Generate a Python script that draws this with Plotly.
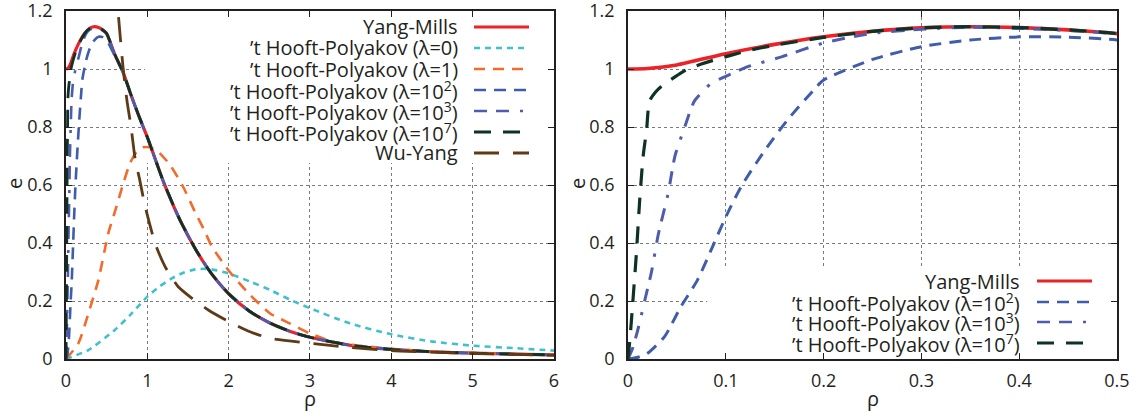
import plotly.graph_objects as go

# ---------------- data ----------------
rho_ym = [0, 0.02, 0.05, 0.1, 0.15, 0.2, 0.25, 0.3, 0.35, 0.4, 0.45, 0.5, 0.6, 0.7, 0.8, 0.9,
          1.0, 1.2, 1.4, 1.6, 1.8, 2.0, 2.25, 2.5, 2.75, 3.0, 3.5, 4.0, 4.5, 5.0, 5.5, 6.0]
e_ym = [1.0, 1.002, 1.014, 1.053, 1.085, 1.111, 1.130, 1.142, 1.146, 1.143, 1.135, 1.122, 1.05, 0.99,
        0.91, 0.835, 0.765, 0.61, 0.48, 0.375, 0.29, 0.225, 0.166, 0.125, 0.096, 0.075, 0.047, 0.033,
        0.025, 0.020, 0.017, 0.014]

rho_l0 = [0, 0.275, 0.6, 0.8, 1.0, 1.15, 1.3, 1.45, 1.59, 1.7, 1.79, 2.0, 2.263, 2.51, 2.75, 3.0,
          3.49, 4.0, 4.51, 5.0, 5.54, 6.0]
e_l0 = [0, 0.031, 0.10, 0.155, 0.215, 0.25, 0.278, 0.298, 0.309, 0.311, 0.309, 0.295, 0.267, 0.238,
        0.205, 0.175, 0.123, 0.085, 0.060, 0.046, 0.037, 0.029]

rho_l1 = [0, 0.152, 0.275, 0.398, 0.52, 0.62, 0.705, 0.787, 0.87, 0.951, 1.03, 1.115, 1.28, 1.44,
          1.59, 1.69, 1.79, 2.0, 2.263, 2.51, 2.75, 3.0, 3.28, 3.49, 4.0, 4.5, 5.0, 5.5, 6.0]
e_l1 = [0, 0.054, 0.157, 0.272, 0.433, 0.525, 0.606, 0.675, 0.715, 0.73, 0.73, 0.72, 0.669, 0.594,
        0.505, 0.45, 0.39, 0.305, 0.221, 0.157, 0.123, 0.088, 0.060, 0.050, 0.035, 0.026, 0.021,
        0.017, 0.014]

rho_l2 = [0, 0.01, 0.02, 0.0374, 0.054, 0.071, 0.088, 0.1, 0.1156, 0.14, 0.163, 0.19, 0.2, 0.25,
          0.3, 0.35, 0.4, 0.45, 0.5, 0.6, 0.7, 0.8, 0.9, 1.0, 1.2, 1.4, 1.6, 1.8, 2.0, 2.25, 2.5,
          2.75, 3.0, 3.5, 4.0, 4.5, 5.0, 5.5, 6.0]
e_l2 = [0, 0.006, 0.02, 0.077, 0.18, 0.272, 0.399, 0.49, 0.594, 0.72, 0.824, 0.928, 0.962, 1.033,
        1.077, 1.10, 1.111, 1.11, 1.10, 1.045, 0.99, 0.91, 0.835, 0.765, 0.61, 0.48, 0.375, 0.29,
        0.225, 0.166, 0.125, 0.096, 0.075, 0.047, 0.033, 0.025, 0.020, 0.017, 0.014]

rho_l3 = [0, 0.005, 0.01, 0.017, 0.024, 0.031, 0.041, 0.048, 0.058, 0.068, 0.085, 0.1, 0.1225,
          0.157, 0.2, 0.25, 0.3, 0.35, 0.4, 0.45, 0.5, 0.6, 0.7, 0.8, 0.9, 1.0, 1.2, 1.4, 1.6, 1.8,
          2.0, 2.25, 2.5, 2.75, 3.0, 3.5, 4.0, 4.5, 5.0, 5.5, 6.0]
e_l3 = [0, 0.04, 0.10, 0.20, 0.30, 0.43, 0.57, 0.70, 0.80, 0.89, 0.95, 0.975, 1.008, 1.042, 1.09,
        1.123, 1.137, 1.144, 1.14, 1.133, 1.12, 1.05, 0.99, 0.91, 0.835, 0.765, 0.61, 0.48, 0.375,
        0.29, 0.225, 0.166, 0.125, 0.096, 0.075, 0.047, 0.033, 0.025, 0.020, 0.017, 0.014]

rho_l7 = [0, 0.002, 0.005, 0.0085, 0.012, 0.0155, 0.019, 0.022, 0.028, 0.034, 0.048, 0.061, 0.075,
          0.088, 0.105, 0.122, 0.15, 0.2, 0.25, 0.3, 0.35, 0.4, 0.45, 0.5, 0.6, 0.7, 0.8, 0.9, 1.0,
          1.2, 1.4, 1.6, 1.8, 2.0, 2.25, 2.5, 2.75, 3.0, 3.5, 4.0, 4.5, 5.0, 5.5, 6.0]
e_l7 = [0, 0.07, 0.20, 0.36, 0.55, 0.70, 0.79, 0.89, 0.92, 0.94, 0.973, 1.0, 1.017, 1.031, 1.047,
        1.063, 1.082, 1.109, 1.130, 1.142, 1.146, 1.143, 1.135, 1.122, 1.05, 0.99, 0.91, 0.835,
        0.765, 0.61, 0.48, 0.375, 0.29, 0.225, 0.166, 0.125, 0.096, 0.075, 0.047, 0.033, 0.025,
        0.020, 0.017, 0.014]

rho_wy = [0.50, 0.57, 0.64, 0.70, 0.75, 0.80, 0.85, 0.905, 0.97, 1.10, 1.22, 1.38, 1.55, 1.75, 2.0,
          2.263, 2.51, 3.0, 3.49, 4.0, 4.5, 5.0, 5.5, 6.0]
e_wy = [1.85, 1.48, 1.2, 1.01, 0.89, 0.80, 0.69, 0.62, 0.53, 0.395, 0.318, 0.249, 0.209, 0.169,
        0.129, 0.094, 0.071, 0.054, 0.040, 0.029, 0.024, 0.019, 0.016, 0.013]

x_ticks_left = [0, 1, 2, 3, 4, 5, 6]
x_ticks_right = [0, 0.1, 0.2, 0.3, 0.4, 0.5]
y_ticks = [0, 0.2, 0.4, 0.6, 0.8, 1.0, 1.2]

names = ["Yang-Mills",
         "’t Hooft-Polyakov (λ=0)",
         "’t Hooft-Polyakov (λ=1)",
         "’t Hooft-Polyakov (λ=10<sup>2</sup>)",
         "’t Hooft-Polyakov (λ=10<sup>3</sup>)",
         "’t Hooft-Polyakov (λ=10<sup>7</sup>)",
         "Wu-Yang"]

# ---------------- styles ----------------
FONT = "Open Sans"
TXT = "#231f20"
FS_TICK = 18
FS_KEY = 20
W, H = 1139, 412
colors = ["#ec2227", "#40c1ca", "#f36a2b", "#3f5daa", "#4f5cae", "#0d3325", "#5e3a17"]
dashes = ["solid", "6px,5px", "11px,8px", "12px,8px", "13px,9px,13px,11px,3px,11px",
          "17px,12px", "25px,14px"]
widths = [3.2, 2.6, 2.6, 2.6, 2.6, 2.8, 2.8]

series = [(rho_ym, e_ym), (rho_l0, e_l0), (rho_l1, e_l1), (rho_l2, e_l2),
          (rho_l3, e_l3), (rho_l7, e_l7), (rho_wy, e_wy)]

fig = go.Figure()
for i, (xs, ys) in enumerate(series):
    fig.add_trace(go.Scatter(x=xs, y=ys, mode="lines", xaxis="x", yaxis="y", showlegend=False,
                             line=dict(color=colors[i], dash=dashes[i], width=widths[i],
                                       shape="spline", smoothing=0.6),
                             name=names[i]))
right_idx = [0, 3, 4, 5]
for i in right_idx:
    xs, ys = series[i]
    fig.add_trace(go.Scatter(x=xs, y=ys, mode="lines", xaxis="x2", yaxis="y2", showlegend=False,
                             line=dict(color=colors[i], dash=dashes[i], width=widths[i] + 0.4,
                                       shape="spline", smoothing=0.6),
                             name=names[i]))


def px_x(p):
    return p / W


def px_y(p):
    return 1 - p / H


axis_common = dict(showline=True, linecolor="#231f20", linewidth=1.5, mirror="ticks",
                   ticks="inside", ticklen=6, tickcolor="#231f20", tickwidth=1,
                   showgrid=True, gridcolor="#7a7a7a", griddash="dot", gridwidth=1,
                   zeroline=False, automargin=False, ticklabeloverflow="allow",
                   tickfont=dict(family=FONT, size=FS_TICK, color=TXT))

YR = [0, 1.2001]
fig.update_layout(
    width=W, height=H, margin=dict(l=0, r=0, t=0, b=0),
    paper_bgcolor="white", plot_bgcolor="white",
    font=dict(family=FONT, color=TXT, size=FS_TICK),
    xaxis=dict(domain=[px_x(66), px_x(554)], range=[0, 6.0005], tickvals=x_ticks_left,
               anchor="y", ticklabelstandoff=5, **axis_common),
    yaxis=dict(domain=[px_y(359), px_y(11)], range=YR, tickvals=y_ticks,
               anchor="x", ticklabelstandoff=8, **axis_common),
    xaxis2=dict(domain=[px_x(628), px_x(1117)], range=[0, 0.50005], tickvals=x_ticks_right,
                anchor="y2", ticklabelstandoff=5, **axis_common),
    yaxis2=dict(domain=[px_y(359), px_y(11)], range=YR, tickvals=y_ticks,
                anchor="x2", ticklabelstandoff=8, **axis_common),
)

# white key backgrounds (hide grid behind the keys)
shapes = [
    dict(type="rect", xref="x", yref="y", x0=0.97, x1=6, y0=0.676, y1=1.2,
         fillcolor="white", line=dict(width=0), layer="between"),
    dict(type="rect", xref="x2", yref="y2", x0=0.081, x1=0.5, y0=0, y1=0.31,
         fillcolor="white", line=dict(width=0), layer="between"),
]
annotations = []


def key(idx_list, rows, text_right, s0, s1):
    for j, i in enumerate(idx_list):
        yy = px_y(rows[j])
        annotations.append(dict(x=px_x(text_right), y=yy, xref="paper", yref="paper",
                                text=names[i], showarrow=False, xanchor="right",
                                yanchor="middle", font=dict(family=FONT, size=FS_KEY, color=TXT)))
        shapes.append(dict(type="line", xref="paper", yref="paper", x0=px_x(s0), x1=px_x(s1),
                           y0=yy, y1=yy, layer="above",
                           line=dict(color=colors[i], dash=dashes[i], width=widths[i])))


key(list(range(7)), [27, 48, 69, 90, 111, 132, 153], 460, 474, 529)
key(right_idx, [281, 302, 322, 343], 1022, 1037, 1092)

# axis titles
for xc in [310, 873]:
    annotations.append(dict(x=px_x(xc), y=px_y(398), xref="paper", yref="paper", text="ρ",
                            showarrow=False, xanchor="center", yanchor="middle",
                            font=dict(family=FONT, size=FS_KEY, color=TXT)))
for xc in [14, 577]:
    annotations.append(dict(x=px_x(xc), y=px_y(184), xref="paper", yref="paper", text="e",
                            showarrow=False, textangle=-90, xanchor="center", yanchor="middle",
                            font=dict(family=FONT, size=FS_KEY, color=TXT)))

fig.update_layout(shapes=shapes, annotations=annotations)
fig.write_html("out.html", config={"displayModeBar": False},
               post_script="document.body.style.margin='0';document.body.style.overflow='hidden';")
